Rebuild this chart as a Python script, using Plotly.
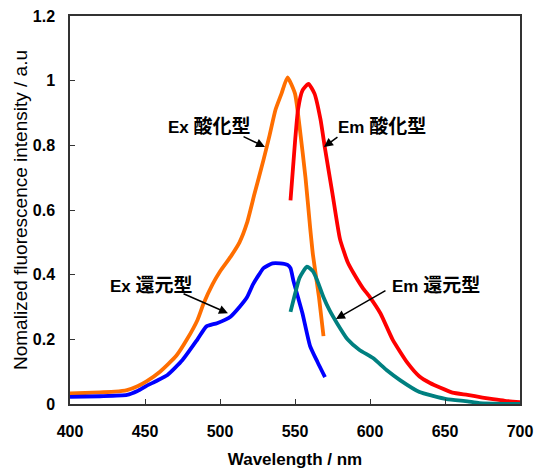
import plotly.graph_objects as go

# ---------------- data ----------------
ex_ox_wl = [400, 410, 420, 430, 438, 445, 451, 460, 471, 478, 485, 489, 495, 500, 507, 513,
            518, 523, 529, 533, 537, 541, 545, 550, 553, 557, 560, 562, 566, 569]
ex_ox_val = [0.033, 0.034, 0.036, 0.038, 0.043, 0.055, 0.07, 0.10, 0.15, 0.20, 0.26, 0.31, 0.37, 0.41, 0.455, 0.50,
             0.56, 0.65, 0.755, 0.83, 0.91, 0.96, 1.01, 0.96, 0.86, 0.70, 0.55, 0.46, 0.33, 0.21]

em_ox_wl = [547, 549, 550, 552, 555, 559, 563, 567, 570, 575, 580, 585, 589, 595, 600, 607,
            615, 625, 633, 640, 647, 655, 665, 675, 682, 690, 700]
em_ox_val = [0.63, 0.75, 0.81, 0.91, 0.97, 0.99, 0.96, 0.88, 0.79, 0.65, 0.51, 0.44, 0.405, 0.36, 0.33, 0.28,
             0.20, 0.127, 0.085, 0.065, 0.05, 0.035, 0.028, 0.02, 0.015, 0.01, 0.006]

ex_red_wl = [400, 420, 438, 445, 451, 458, 465, 475, 485, 491, 498, 507, 513, 518, 522, 526,
             529, 535, 540, 545, 547, 549, 552, 555, 560, 565, 570]
ex_red_val = [0.022, 0.024, 0.028, 0.04, 0.056, 0.072, 0.09, 0.136, 0.20, 0.24, 0.25, 0.27, 0.30, 0.33, 0.37, 0.40,
              0.42, 0.435, 0.435, 0.43, 0.42, 0.38, 0.33, 0.28, 0.18, 0.13, 0.083]

em_red_wl = [547, 550, 553, 558, 562, 565, 569, 573, 578, 585, 593, 602, 611, 620, 633, 642,
             651, 665, 673, 700]
em_red_val = [0.285, 0.34, 0.39, 0.425, 0.41, 0.38, 0.33, 0.29, 0.25, 0.20, 0.167, 0.142, 0.105, 0.074, 0.037, 0.025,
              0.015, 0.008, 0.003, 0.0]

x_ticks = [400, 450, 500, 550, 600, 650, 700]
y_ticks = [0, 0.2, 0.4, 0.6, 0.8, 1.0, 1.2]
y_tick_labels = ["0", "0.2", "0.4", "0.6", "0.8", "1", "1.2"]

label_prefix = ["Ex", "Em", "Ex", "Em"]
label_kanji = ["酸化型", "酸化型", "還元型", "還元型"]
label_x = [493.3, 608.3, 454.0, 644.0]
label_y = [0.857, 0.857, 0.368, 0.365]
arrow_tail_x = [514.7, 579.3, 474.7, 611.3]
arrow_tail_y = [0.829, 0.829, 0.343, 0.353]
arrow_head_x = [530.0, 569.3, 505.3, 577.3]
arrow_head_y = [0.795, 0.795, 0.281, 0.263]

# ---------------- figure ----------------
FONT = "Arial, Liberation Sans, Noto Sans CJK JP, sans-serif"

fig = go.Figure()
series = [
    (ex_ox_wl, ex_ox_val, "#FF6E00"),
    (em_ox_wl, em_ox_val, "#FF0000"),
    (ex_red_wl, ex_red_val, "#0000FF"),
    (em_red_wl, em_red_val, "#008080"),
]
for wl, val, col in series:
    fig.add_trace(go.Scatter(x=wl, y=val, mode="lines",
                             line=dict(color=col, width=3.8, shape="spline", smoothing=0.5),
                             showlegend=False, hoverinfo="skip"))

for i in range(len(label_prefix)):
    txt = "<b>" + label_prefix[i] + " <span style='font-size:19px'>" + label_kanji[i] + "</span></b>"
    fig.add_annotation(x=label_x[i], y=label_y[i], text=txt, showarrow=False,
                       font=dict(family=FONT, size=17, color="black"), xanchor="center", yanchor="middle")
    fig.add_annotation(x=arrow_head_x[i], y=arrow_head_y[i], ax=arrow_tail_x[i], ay=arrow_tail_y[i],
                       xref="x", yref="y", axref="x", ayref="y", text="", showarrow=True,
                       arrowhead=2, arrowsize=1.2, arrowwidth=1.5, arrowcolor="black", standoff=0)

fig.update_layout(
    width=535, height=469,
    margin=dict(l=70, r=15, t=16, b=65),
    paper_bgcolor="white", plot_bgcolor="white",
    font=dict(family=FONT, color="black"),
    xaxis=dict(range=[400, 700], tickvals=x_ticks, ticks="inside", ticklen=5, tickcolor="#333",
               showline=True, mirror=True, linecolor="#333", linewidth=1.5, automargin=False,
               showgrid=False, zeroline=False, ticklabelstandoff=12,
               tickfont=dict(family=FONT, size=16, weight="bold"),
               title=dict(text="<b>Wavelength / nm</b>", font=dict(family=FONT, size=17), standoff=19)),
    yaxis=dict(range=[0, 1.2], tickvals=y_ticks, ticktext=y_tick_labels, ticks="inside", ticklen=5,
               tickcolor="#333", showline=True, mirror=True, linecolor="#333", linewidth=1.5, automargin=False,
               showgrid=False, zeroline=False, ticklabelstandoff=10,
               tickfont=dict(family=FONT, size=16, weight="bold"),
               title=dict(text="Nomalized fluorescence intensity / a.u", font=dict(family=FONT, size=19), standoff=0)),
)

fig.write_html("out.html", config={"displayModeBar": False},
               post_script="document.body.style.margin='0';document.body.style.overflow='hidden';")
